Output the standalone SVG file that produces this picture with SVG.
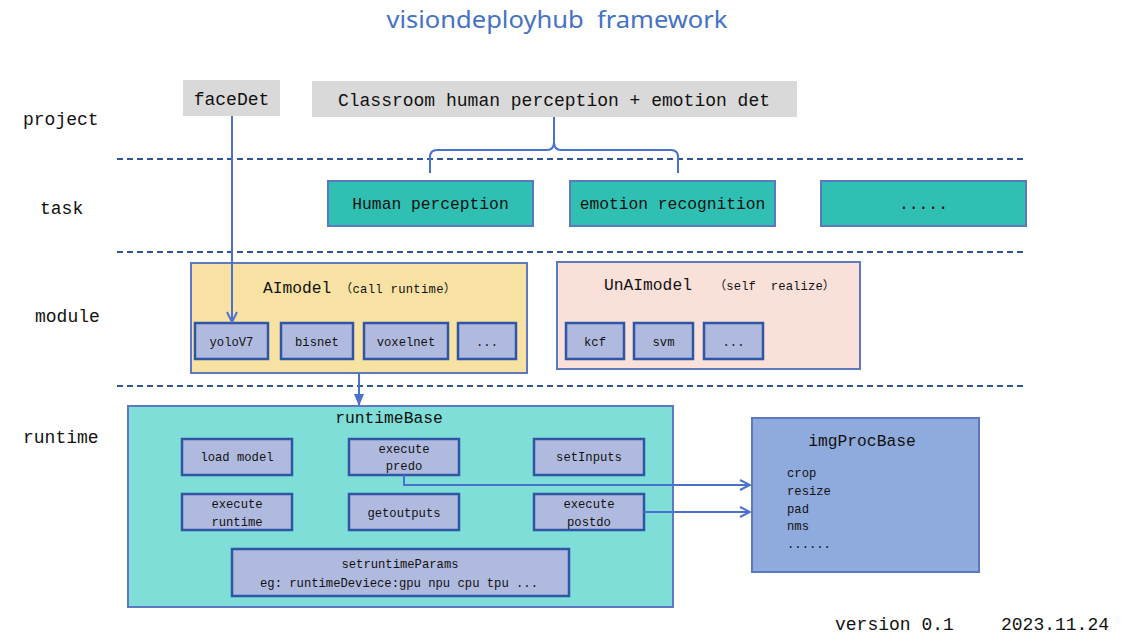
<svg xmlns="http://www.w3.org/2000/svg" width="1121" height="641" viewBox="0 0 1121 641">
<defs>
<style>
text{white-space:pre;}
.m{font-family:"Liberation Mono","DejaVu Sans Mono","Noto Sans CJK SC",monospace;fill:#111;}
.lbl{font-size:18px;}
.t16{font-size:16.3px;}
.t12{font-size:12.2px;}
.gray{fill:#d9d9d9;stroke:none;}
.task{fill:#30c0b3;stroke:#5b78c0;stroke-width:2;}
.sub{fill:#b0badf;stroke:#2f55a5;stroke-width:2.5;}
.dash{stroke:#2f5597;stroke-width:2;stroke-dasharray:6 4;fill:none;}
.con{stroke:#4a72cc;stroke-width:2;fill:none;}
</style>
<marker id="chev" viewBox="0 0 12 12" refX="11" refY="6" markerWidth="12" markerHeight="12" markerUnits="userSpaceOnUse" orient="auto">
<path d="M1,1 L11,6 L1,11" fill="none" stroke="#4a72cc" stroke-width="2"/>
</marker>
<marker id="tri" viewBox="0 0 12 12" refX="11" refY="6" markerWidth="12" markerHeight="12" markerUnits="userSpaceOnUse" orient="auto">
<path d="M0,1 L12,6 L0,11 Z" fill="#4a72cc"/>
</marker>
</defs>
<rect width="1121" height="641" fill="#ffffff"/>

<text x="557" y="28" text-anchor="middle" font-family="'Noto Sans','Open Sans',sans-serif" font-size="24" fill="#4472c4" textLength="341" lengthAdjust="spacingAndGlyphs" xml:space="preserve">visiondeployhub  framework</text>

<g id="layer-labels">
<text class="m lbl" x="23" y="125">project</text>
<text class="m lbl" x="40" y="214">task</text>
<text class="m lbl" x="35" y="322">module</text>
<text class="m lbl" x="23" y="443">runtime</text>
</g>

<g id="separators">
<line class="dash" x1="117" y1="159" x2="1023" y2="159"/>
<line class="dash" x1="117" y1="252" x2="1023" y2="252"/>
<line class="dash" x1="117" y1="386" x2="1023" y2="386"/>
</g>

<g id="faceDet">
<rect class="gray" x="183" y="80" width="97" height="36"/>
<text class="m lbl" x="231.5" y="105" text-anchor="middle">faceDet</text>
</g>
<g id="classroom">
<rect class="gray" x="312" y="81" width="485" height="36"/>
<text class="m lbl" x="554" y="106" text-anchor="middle">Classroom human perception + emotion det</text>
</g>

<g id="task-human">
<rect class="task" x="328" y="181" width="205" height="45"/>
<text class="m t16" x="430.5" y="209" text-anchor="middle">Human perception</text>
</g>
<g id="task-emotion">
<rect class="task" x="570" y="181" width="205" height="45"/>
<text class="m t16" x="672.5" y="209" text-anchor="middle">emotion recognition</text>
</g>
<g id="task-more">
<rect class="task" x="821" y="181" width="205" height="45"/>
<text class="m t16" x="923.5" y="209" text-anchor="middle">.....</text>
</g>

<g id="AImodel">
<rect x="191" y="263" width="336" height="110" fill="#f8e2a3" stroke="#5b78c0" stroke-width="2"/>
<text class="m t16" x="263" y="293">AImodel</text>
<text class="m t12" x="340" y="293" textLength="116" lengthAdjust="spacing">（call runtime）</text>
</g>
<g id="yoloV7"><rect class="sub" x="195" y="323" width="73" height="36"/><text class="m t12" x="231.5" y="346" text-anchor="middle">yoloV7</text></g>
<g id="bisnet"><rect class="sub" x="281" y="323" width="72" height="36"/><text class="m t12" x="317" y="346" text-anchor="middle">bisnet</text></g>
<g id="voxelnet"><rect class="sub" x="364" y="323" width="84" height="36"/><text class="m t12" x="406" y="346" text-anchor="middle">voxelnet</text></g>
<g id="ai-more"><rect class="sub" x="458" y="323" width="58" height="36"/><text class="m t12" x="487" y="346" text-anchor="middle">...</text></g>

<g id="UnAImodel">
<rect x="557" y="262" width="303" height="107" fill="#f9e0d9" stroke="#5b78c0" stroke-width="2"/>
<text class="m t16" x="604" y="290">UnAImodel</text>
<text class="m t12" x="714" y="290" textLength="121" lengthAdjust="spacing" xml:space="preserve">（self  realize）</text>
</g>
<g id="kcf"><rect class="sub" x="566" y="323" width="58" height="36"/><text class="m t12" x="595" y="346" text-anchor="middle">kcf</text></g>
<g id="svm"><rect class="sub" x="634" y="323" width="59" height="36"/><text class="m t12" x="663.5" y="346" text-anchor="middle">svm</text></g>
<g id="unai-more"><rect class="sub" x="704" y="323" width="59" height="36"/><text class="m t12" x="733.5" y="346" text-anchor="middle">...</text></g>

<g id="runtimeBase">
<rect x="128" y="406" width="545" height="201" fill="#7fdfd8" stroke="#5b78c0" stroke-width="2"/>
<text class="m t16" x="389" y="423" text-anchor="middle">runtimeBase</text>
</g>
<g id="loadModel"><rect class="sub" x="182" y="439" width="110" height="36"/><text class="m t12" x="237" y="461" text-anchor="middle">load model</text></g>
<g id="executePredo"><rect class="sub" x="349" y="439" width="110" height="36"/><text class="m t12" x="404" y="453" text-anchor="middle">execute</text><text class="m t12" x="404" y="470" text-anchor="middle">predo</text></g>
<g id="setInputs"><rect class="sub" x="534" y="439" width="110" height="36"/><text class="m t12" x="589" y="461" text-anchor="middle">setInputs</text></g>
<g id="executeRuntime"><rect class="sub" x="182" y="494" width="110" height="36"/><text class="m t12" x="237" y="508" text-anchor="middle">execute</text><text class="m t12" x="237" y="526" text-anchor="middle">runtime</text></g>
<g id="getoutputs"><rect class="sub" x="349" y="494" width="110" height="36"/><text class="m t12" x="404" y="517" text-anchor="middle">getoutputs</text></g>
<g id="executePostdo"><rect class="sub" x="534" y="494" width="110" height="36"/><text class="m t12" x="589" y="508" text-anchor="middle">execute</text><text class="m t12" x="589" y="526" text-anchor="middle">postdo</text></g>
<g id="setruntimeParams"><rect class="sub" x="232" y="549" width="337" height="47"/><text class="m t12" x="400" y="568" text-anchor="middle">setruntimeParams</text><text class="m t12" x="399" y="587" text-anchor="middle">eg: runtimeDeviece:gpu npu cpu tpu ...</text></g>

<g id="imgProcBase">
<rect x="752" y="418" width="227" height="154" fill="#8faadc" stroke="#5b78c0" stroke-width="2"/>
<text class="m t16" x="862" y="446" text-anchor="middle">imgProcBase</text>
<text class="m t12" x="787" y="477">crop</text>
<text class="m t12" x="787" y="495">resize</text>
<text class="m t12" x="787" y="513">pad</text>
<text class="m t12" x="787" y="530">nms</text>
<text class="m t12" x="787" y="548">......</text>
</g>

<g id="connectors">
<path class="con" d="M430,173 V157 Q430,150 437,150 H547 Q554,150 554,142 V117 M554,142 Q554,150 561,150 H671 Q678,150 678,157 V173"/>
<path class="con" d="M232,116 V322" marker-end="url(#chev)"/>
<path class="con" d="M359,373 V405" marker-end="url(#tri)"/>
<path class="con" d="M404,475 V485 H750" marker-end="url(#chev)"/>
<path class="con" d="M644,512 H750" marker-end="url(#chev)"/>
</g>

<g id="footer">
<text class="m lbl" x="835" y="630">version 0.1</text>
<text class="m lbl" x="1001" y="630">2023.11.24</text>
</g>
</svg>
